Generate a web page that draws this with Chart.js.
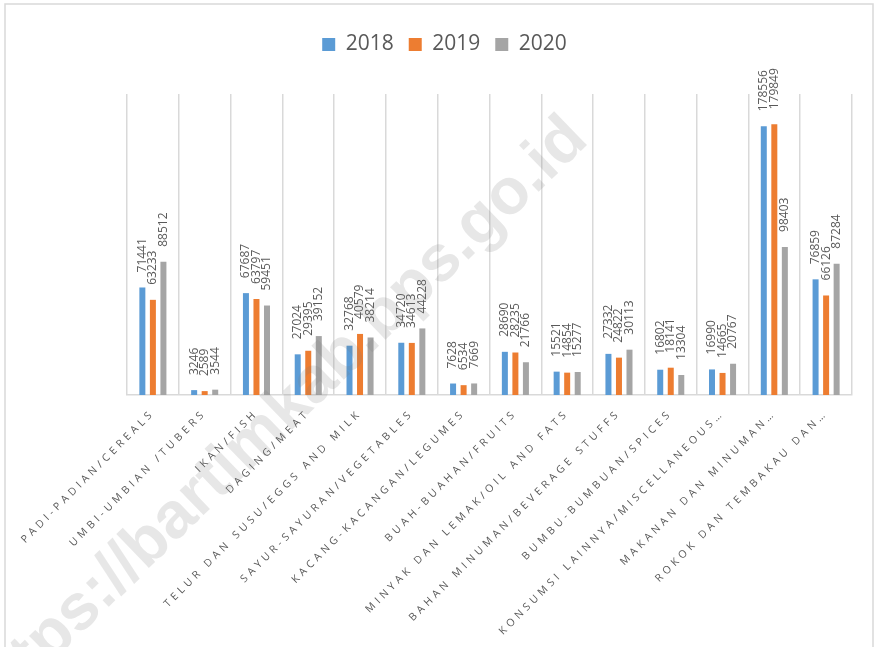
<!DOCTYPE html>
<html>
<head>
<meta charset="utf-8">
<script src="https://cdn.jsdelivr.net/npm/chart.js@4.4.1/dist/chart.umd.min.js"></script>
<style>
  html, body { margin: 0; padding: 0; background: #fff; }
  canvas { display: block; }
</style>
</head>
<body>
<canvas id="chart" width="875" height="647"></canvas>
<script>
'use strict';

// kategori pengeluaran (seperti yang terlihat, sudah terpotong)
const categories = [
    'PADI-PADIAN/CEREALS',
    'UMBI-UMBIAN /TUBERS',
    'IKAN/FISH',
    'DAGING/MEAT',
    'TELUR DAN SUSU/EGGS AND MILK',
    'SAYUR-SAYURAN/VEGETABLES',
    'KACANG-KACANGAN/LEGUMES',
    'BUAH-BUAHAN/FRUITS',
    'MINYAK DAN LEMAK/OIL AND FATS',
    'BAHAN MINUMAN/BEVERAGE STUFFS',
    'BUMBU-BUMBUAN/SPICES',
    'KONSUMSI LAINNYA/MISCELLANEOUS…',
    'MAKANAN DAN MINUMAN…',
    'ROKOK DAN TEMBAKAU DAN…'
];

const years = ['2018', '2019', '2020'];

const values2018 = [71441, 3246, 67687, 27024, 32768, 34720, 7628, 28690, 15521, 27332, 16802, 16990, 178556, 76859];
const values2019 = [63233, 2589, 63797, 29395, 40579, 34613, 6534, 28235, 14854, 24822, 18141, 14665, 179849, 66126];
const values2020 = [88512, 3544, 59451, 39152, 38214, 44228, 7669, 21766, 15277, 30113, 13304, 20767, 98403, 87284];

const colors = ['#5B9BD5', '#ED7D31', '#A5A5A5'];
const textColor = '#595959';
const lineColor = '#d9d9d9';

/**
 * Legend diberi tinggi tetap supaya area plot mulai di y ~ 94
 */
const legendHeight = {
    id: 'legendHeight',
    beforeInit(chart) {
        const fit = chart.legend.fit;
        chart.legend.fit = function () {
            fit.bind(chart.legend)();
            this.height = 75;
        };
    }
};

/**
 * Label nilai tegak di atas batang + spasi huruf untuk label sumbu x
 */
const barValues = {
    id: 'barValues',
    beforeDraw(chart) {
        chart.ctx.letterSpacing = '0px';
    },
    afterDatasetsDraw(chart) {
        const ctx = chart.ctx;
        ctx.save();
        ctx.font = '12px "Open Sans"';
        ctx.fillStyle = textColor;
        ctx.textAlign = 'left';
        ctx.textBaseline = 'middle';
        chart.data.datasets.forEach((ds, i) => {
            chart.getDatasetMeta(i).data.forEach((bar, j) => {
                ctx.save();
                ctx.translate(bar.x, bar.y - 15);
                ctx.rotate(-Math.PI / 2);
                ctx.fillText(String(ds.data[j]), 0, 0);
                ctx.restore();
            });
        });
        ctx.restore();
        // label sumbu x digambar sesudah ini (ticks.z = 1)
        ctx.letterSpacing = '3.8px';
    },
    afterDraw(chart) {
        const ctx = chart.ctx;
        ctx.letterSpacing = '0px';
        // watermark
        ctx.save();
        ctx.font = 'bold 65px "Liberation Sans"';
        ctx.fillStyle = 'rgba(120, 120, 120, 0.18)';
        ctx.textAlign = 'right';
        ctx.textBaseline = 'alphabetic';
        ctx.translate(590, 142);
        ctx.rotate(-44 * Math.PI / 180);
        ctx.fillText('https://bartimkab.bps.go.id', 0, 0);
        ctx.restore();
        // bingkai
        ctx.save();
        ctx.strokeStyle = lineColor;
        ctx.lineWidth = 1.5;
        ctx.strokeRect(5, 4, 868, 700);
        ctx.restore();
    }
};

const ctx = document.getElementById('chart').getContext('2d');

new Chart(ctx, {
    type: 'bar',
    data: {
        labels: categories,
        datasets: years.map((y, i) => ({
            label: y,
            data: [values2018, values2019, values2020][i],
            backgroundColor: colors[i],
            categoryPercentage: 0.61,
            barPercentage: 0.57
        }))
    },
    options: {
        responsive: false,
        animation: false,
        events: [],
        layout: { padding: { left: 37, right: 23, top: 19, bottom: 0 } },
        plugins: {
            legend: {
                position: 'top',
                labels: {
                    boxWidth: 13,
                    boxHeight: 13,
                    padding: 15,
                    color: textColor,
                    font: { family: '"Open Sans"', size: 21 }
                }
            },
            tooltip: { enabled: false }
        },
        scales: {
            x: {
                grid: {
                    display: true,
                    offset: true,
                    color: lineColor,
                    lineWidth: 1.5,
                    drawTicks: false
                },
                border: { display: true, color: lineColor, width: 1.5 },
                ticks: {
                    z: 1,
                    autoSkip: false,
                    minRotation: 45,
                    maxRotation: 45,
                    padding: 12,
                    color: textColor,
                    font: { family: '"Open Sans"', size: 10.5 }
                },
                afterFit(scale) {
                    scale.height = 252;
                }
            },
            y: {
                min: 0,
                max: 200000,
                grid: { display: false },
                border: { display: false },
                ticks: { display: false },
                afterFit(scale) {
                    scale.width = 90;
                }
            }
        }
    },
    plugins: [legendHeight, barValues]
});
</script>
</body>
</html>
